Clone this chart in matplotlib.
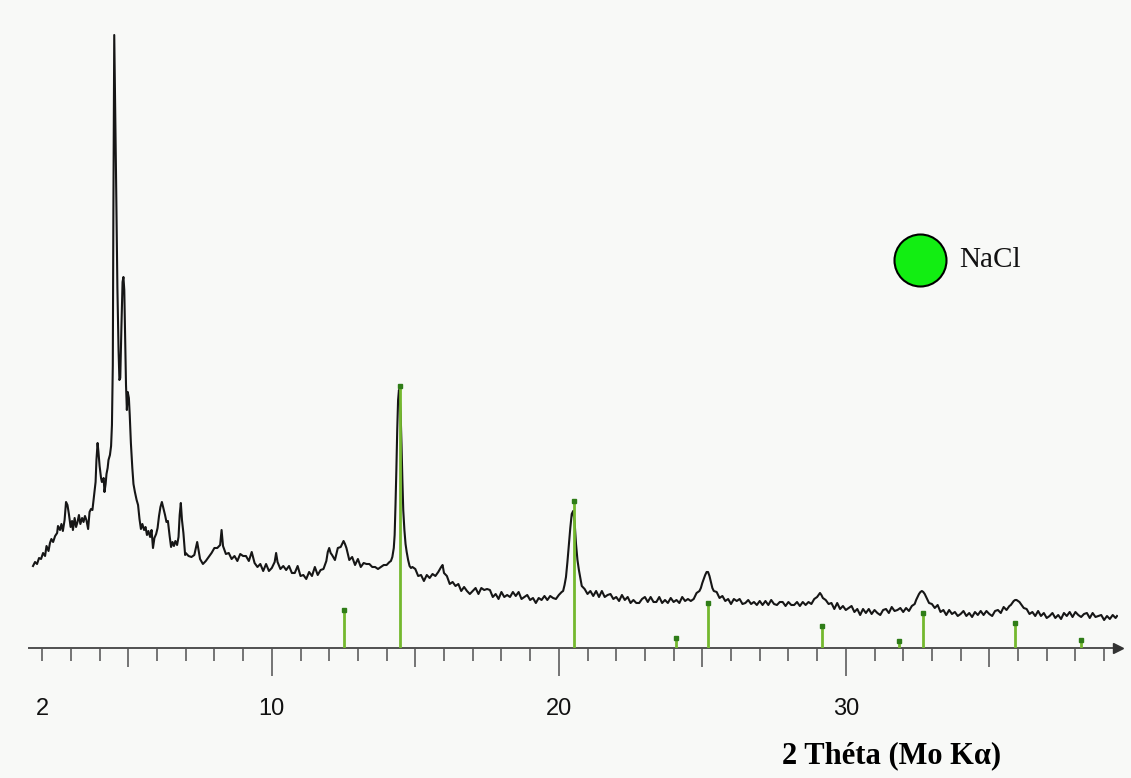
import matplotlib
matplotlib.use("Agg")
import matplotlib.pyplot as plt

# ---------------- data ----------------
# measured diffraction trace: 2-theta (deg) and intensity (arbitrary units)
two_theta = [
    1.68, 1.75, 1.82, 1.89, 1.96, 2.03, 2.10, 2.15, 2.22, 2.27, 2.32, 2.38, 2.45, 2.52, 2.55,
    2.62, 2.67, 2.72, 2.78, 2.83, 2.88, 2.93, 2.99, 3.04, 3.07, 3.13, 3.18, 3.23, 3.28, 3.33,
    3.39, 3.44, 3.49, 3.54, 3.60, 3.65, 3.70, 3.75, 3.80, 3.86, 3.89, 3.93, 3.96, 4.00, 4.05,
    4.08, 4.14, 4.17, 4.21, 4.24, 4.28, 4.31, 4.36, 4.40, 4.43, 4.46, 4.48, 4.51, 4.54, 4.57,
    4.62, 4.66, 4.69, 4.72, 4.76, 4.80, 4.83, 4.86, 4.89, 4.92, 4.95, 4.98, 5.02, 5.05, 5.09,
    5.14, 5.18, 5.23, 5.29, 5.34, 5.39, 5.44, 5.49, 5.55, 5.60, 5.65, 5.70, 5.76, 5.81, 5.86,
    5.91, 5.97, 6.02, 6.07, 6.12, 6.17, 6.23, 6.28, 6.33, 6.38, 6.44, 6.49, 6.54, 6.59, 6.64,
    6.70, 6.75, 6.79, 6.83, 6.87, 6.92, 6.98,
    7.0, 7.1, 7.2, 7.3, 7.4, 7.5, 7.6, 7.7, 7.8, 7.9, 8.0, 8.1, 8.2, 8.25, 8.3, 8.4, 8.5, 8.6,
    8.7, 8.8, 8.9, 9.0, 9.1, 9.2, 9.3, 9.4, 9.5, 9.6, 9.7, 9.8, 9.9, 10.0, 10.1, 10.15, 10.2,
    10.3, 10.4, 10.5, 10.6, 10.7, 10.8, 10.9, 11.0, 11.1, 11.2, 11.3, 11.4, 11.5, 11.6, 11.7,
    11.8, 11.9, 11.95, 12.0, 12.05, 12.1, 12.2, 12.3, 12.4, 12.5, 12.55, 12.6, 12.7, 12.8, 12.9,
    13.0, 13.1, 13.2, 13.3, 13.4, 13.5, 13.6, 13.7, 13.8, 13.9, 14.0, 14.1, 14.15, 14.2, 14.25,
    14.28, 14.31, 14.34, 14.37, 14.40, 14.43, 14.46, 14.49, 14.52, 14.55, 14.58, 14.62, 14.66,
    14.7, 14.75, 14.8, 14.85, 14.9, 15.0, 15.1, 15.2, 15.3, 15.4, 15.5, 15.6, 15.7, 15.8, 15.9,
    15.95, 16.0, 16.1, 16.2, 16.3, 16.4, 16.5, 16.6, 16.7, 16.8, 16.9, 17.0, 17.1, 17.2, 17.3,
    17.4, 17.5, 17.6, 17.7, 17.8, 17.9, 18.0, 18.1, 18.2, 18.3, 18.4, 18.5, 18.6, 18.7, 18.8,
    18.9, 19.0, 19.1, 19.2, 19.3, 19.4, 19.5, 19.6, 19.7, 19.8, 19.9, 20.0, 20.1, 20.15, 20.2,
    20.25, 20.3, 20.35, 20.4, 20.45, 20.5, 20.55, 20.6, 20.65, 20.7, 20.8, 20.9, 21.0, 21.1,
    21.2, 21.3, 21.4, 21.5, 21.6, 21.7, 21.8, 21.9, 22.0, 22.1, 22.2, 22.3, 22.4, 22.5, 22.6,
    22.7, 22.8, 22.9, 23.0, 23.1, 23.2, 23.3, 23.4, 23.5, 23.6, 23.7, 23.8, 23.9, 24.0, 24.1,
    24.2, 24.3, 24.4, 24.5, 24.6, 24.7, 24.8, 24.9, 24.95, 25.0, 25.05, 25.1, 25.15, 25.2,
    25.25, 25.3, 25.35, 25.4, 25.5, 25.6, 25.7, 25.8, 25.9, 26.0, 26.1, 26.2, 26.3, 26.4, 26.5,
    26.6, 26.7, 26.8, 26.9, 27.0, 27.1, 27.2, 27.3, 27.4, 27.5, 27.6, 27.7, 27.8, 27.9, 28.0,
    28.1, 28.2, 28.3, 28.4, 28.5, 28.6, 28.7, 28.8, 28.9, 28.95, 29.0, 29.05, 29.1, 29.15,
    29.2, 29.3, 29.4, 29.5, 29.6, 29.7, 29.8, 29.9, 30.0, 30.1, 30.2, 30.3, 30.4, 30.5, 30.6,
    30.7, 30.8, 30.9, 31.0, 31.1, 31.2, 31.3, 31.4, 31.5, 31.6, 31.7, 31.8, 31.9, 32.0, 32.1,
    32.2, 32.3, 32.4, 32.45, 32.5, 32.55, 32.6, 32.65, 32.7, 32.75, 32.8, 32.9, 33.0, 33.1,
    33.2, 33.3, 33.4, 33.5, 33.6, 33.7, 33.8, 33.9, 34.0, 34.1, 34.2, 34.3, 34.4, 34.5, 34.6,
    34.7, 34.8, 34.9, 35.0, 35.1, 35.2, 35.3, 35.4, 35.5, 35.6, 35.7, 35.75, 35.8, 35.85, 35.9,
    35.95, 36.0, 36.05, 36.1, 36.2, 36.3, 36.4, 36.5, 36.6, 36.7, 36.8, 36.9, 37.0, 37.1, 37.2,
    37.3, 37.4, 37.5, 37.6, 37.7, 37.8, 37.9, 38.0, 38.1, 38.2, 38.3, 38.4, 38.5, 38.6, 38.7,
    38.8, 38.9, 39.0, 39.1, 39.2, 39.3, 39.4, 39.45,
]
intensity = [
    82, 86, 84, 90, 89, 95, 92, 102, 97, 105, 109, 106, 112, 115, 122,
    118, 124, 117, 128, 146, 143, 134, 121, 127, 118, 130, 121, 126, 133, 124,
    130, 126, 132, 128, 119, 136, 139, 138, 151, 166, 188, 205, 196, 182, 170,
    166, 170, 156, 164, 174, 180, 188, 193, 202, 223, 283, 436, 613, 548, 478,
    360, 298, 268, 270, 321, 366, 371, 358, 308, 263, 238, 256, 250, 233, 205,
    180, 164, 156, 148, 143, 129, 119, 124, 118, 121, 113, 117, 111, 118, 100,
    110, 114, 120, 132, 141, 146, 139, 133, 126, 127, 112, 101, 106, 102, 107,
    103, 111, 133, 145, 128, 115, 93,
    95, 92, 91, 93, 106, 89, 84, 87, 91, 95, 100, 100, 103, 118, 102, 94, 95, 89,
    92, 87, 94, 92, 92, 87, 96, 85, 81, 84, 77, 84, 77, 80, 86, 95, 86,
    79, 82, 78, 82, 75, 75, 82, 72, 73, 69, 76, 72, 81, 73, 78,
    79, 87, 96, 100, 95, 93, 88, 100, 101, 107, 104, 100, 88, 91, 83,
    89, 81, 85, 84, 84, 81, 81, 79, 81, 83, 83, 86, 87, 91, 100,
    113, 143, 178, 218, 248, 258, 250, 233, 203, 168, 138, 118, 104,
    96, 88, 82, 80, 81, 79, 72, 73, 67, 73, 70, 74, 72, 76, 81,
    83, 75, 72, 64, 66, 62, 64, 57, 61, 57, 54, 57, 60, 54, 60,
    58, 59, 58, 51, 54, 49, 56, 51, 53, 51, 56, 52, 56, 49, 51,
    53, 48, 50, 45, 50, 48, 52, 48, 52, 50, 49, 53, 56, 57, 63,
    71, 86, 103, 120, 134, 137, 126, 104, 88, 78, 62, 59, 54, 57,
    52, 57, 51, 57, 51, 53, 54, 49, 51, 47, 53, 48, 51, 45, 48,
    45, 45, 49, 51, 46, 51, 46, 46, 51, 45, 48, 45, 50, 46, 48,
    45, 51, 47, 49, 47, 49, 55, 57, 60, 65, 69, 73, 76, 76,
    72, 66, 60, 57, 56, 50, 52, 47, 49, 44, 49, 47, 49, 44, 45,
    48, 44, 46, 43, 47, 43, 47, 43, 48, 44, 43, 46, 46, 42, 46,
    43, 43, 46, 42, 46, 43, 46, 44, 49, 50, 51, 53, 55, 53,
    50, 48, 44, 45, 39, 45, 39, 42, 38, 40, 42, 36, 39, 33, 39,
    35, 39, 34, 38, 35, 33, 38, 39, 35, 41, 37, 38, 40, 36, 40,
    37, 42, 44, 48, 51, 54, 56, 57, 56, 54, 51, 45, 44, 40,
    43, 36, 38, 33, 38, 34, 36, 32, 34, 37, 32, 35, 31, 36, 33,
    37, 33, 37, 34, 32, 37, 38, 35, 41, 38, 42, 43, 45, 47, 48,
    48, 47, 46, 44, 40, 39, 34, 36, 32, 37, 32, 35, 30, 32, 35,
    30, 33, 29, 35, 32, 36, 31, 36, 33, 31, 34, 35, 30, 35, 31,
    32, 33, 28, 32, 29, 33, 30, 32,
]

# NaCl reference lines (2-theta, relative height)
nacl_2theta = [12.53, 14.48, 20.52, 24.10, 25.20, 29.18, 31.85, 32.70, 35.88, 38.20]
nacl_height = [38, 262, 147, 10, 45, 22, 7, 35, 25, 8]

major_ticks = [10, 20, 30]
medium_ticks = [5, 15, 25, 35]
minor_ticks = [2, 3, 4, 6, 7, 8, 9, 11, 12, 13, 14, 16, 17, 18, 19, 21, 22, 23, 24,
               26, 27, 28, 29, 31, 32, 33, 34, 36, 37, 38, 39]
tick_labels = ["10", "20", "30"]
first_label = "2"

x_label = "2 Théta (Mo Kα)"
legend_label = "NaCl"

# ---------------- figure ----------------
W, H = 1131, 778
PX = 72 / 100  # points per pixel at dpi=100
BG = "#f8f9f7"
AXIS_C = "#505050"
STICK_C = "#74b82e"
DOT_C = "#2f7d18"

fig = plt.figure(figsize=(W / 100, H / 100), dpi=100, facecolor=BG)
ax = fig.add_axes([29 / W, 130 / H, 1089 / W, 648 / H])
ax.set_facecolor("none")
ax.set_xlim(1.540, 39.484)
ax.set_ylim(0, 648)

for s in ("left", "right", "top"):
    ax.spines[s].set_visible(False)
ax.spines["bottom"].set_color(AXIS_C)
ax.spines["bottom"].set_linewidth(1.4)
ax.set_yticks([])

# trace
ax.plot(two_theta, intensity, color="#161616", lw=1.5, zorder=2)

# NaCl sticks
ax.vlines(nacl_2theta, 0, nacl_height, color=STICK_C, lw=2.0, zorder=3)
ax.plot(nacl_2theta, nacl_height, ls="", marker="s", ms=3.2, color=DOT_C, zorder=4)

# ticks
ax.set_xticks(major_ticks)
ax.set_xticklabels(tick_labels)
ax.set_xticks(minor_ticks, minor=True)
ax.set_xticklabels([first_label if t == 2 else "" for t in minor_ticks], minor=True)
ax.tick_params(axis="x", which="major", direction="out", length=28 * PX, width=1.1,
               color=AXIS_C, pad=15.5, labelsize=17, labelcolor="#111111")
ax.tick_params(axis="x", which="minor", direction="out", length=13 * PX, width=1.1,
               color=AXIS_C, pad=15.5 + 15 * PX, labelsize=17, labelcolor="#111111")
for lab in ax.get_xticklabels() + ax.get_xticklabels(minor=True):
    lab.set_fontfamily("Liberation Sans")

sec = ax.secondary_xaxis("bottom")
sec.set_xticks(medium_ticks)
sec.set_xticklabels([])
sec.tick_params(axis="x", direction="out", length=19 * PX, width=1.1, color=AXIS_C)
sec.spines["bottom"].set_visible(False)

# arrow head at the end of the axis
ax.plot([1.0], [0], marker=">", ms=7, color="#333333", transform=ax.transAxes,
        clip_on=False, zorder=5)

# x label
ax.set_xlabel(x_label, fontfamily="Liberation Serif", fontweight="bold", fontsize=22)
ax.xaxis.set_label_coords((892 - 29) / 1089, (648 - 741) / 648)

# legend marker
ax.scatter([32.585], [388], s=(52 * PX) ** 2, color="#12ee12", edgecolor="black",
           linewidth=1.5, zorder=5, clip_on=False)
ax.text(33.95, 388, legend_label, fontfamily="Liberation Serif", fontsize=21,
        va="center", ha="left", color="#111111")

fig.savefig("out.png", dpi=100, facecolor=BG)
